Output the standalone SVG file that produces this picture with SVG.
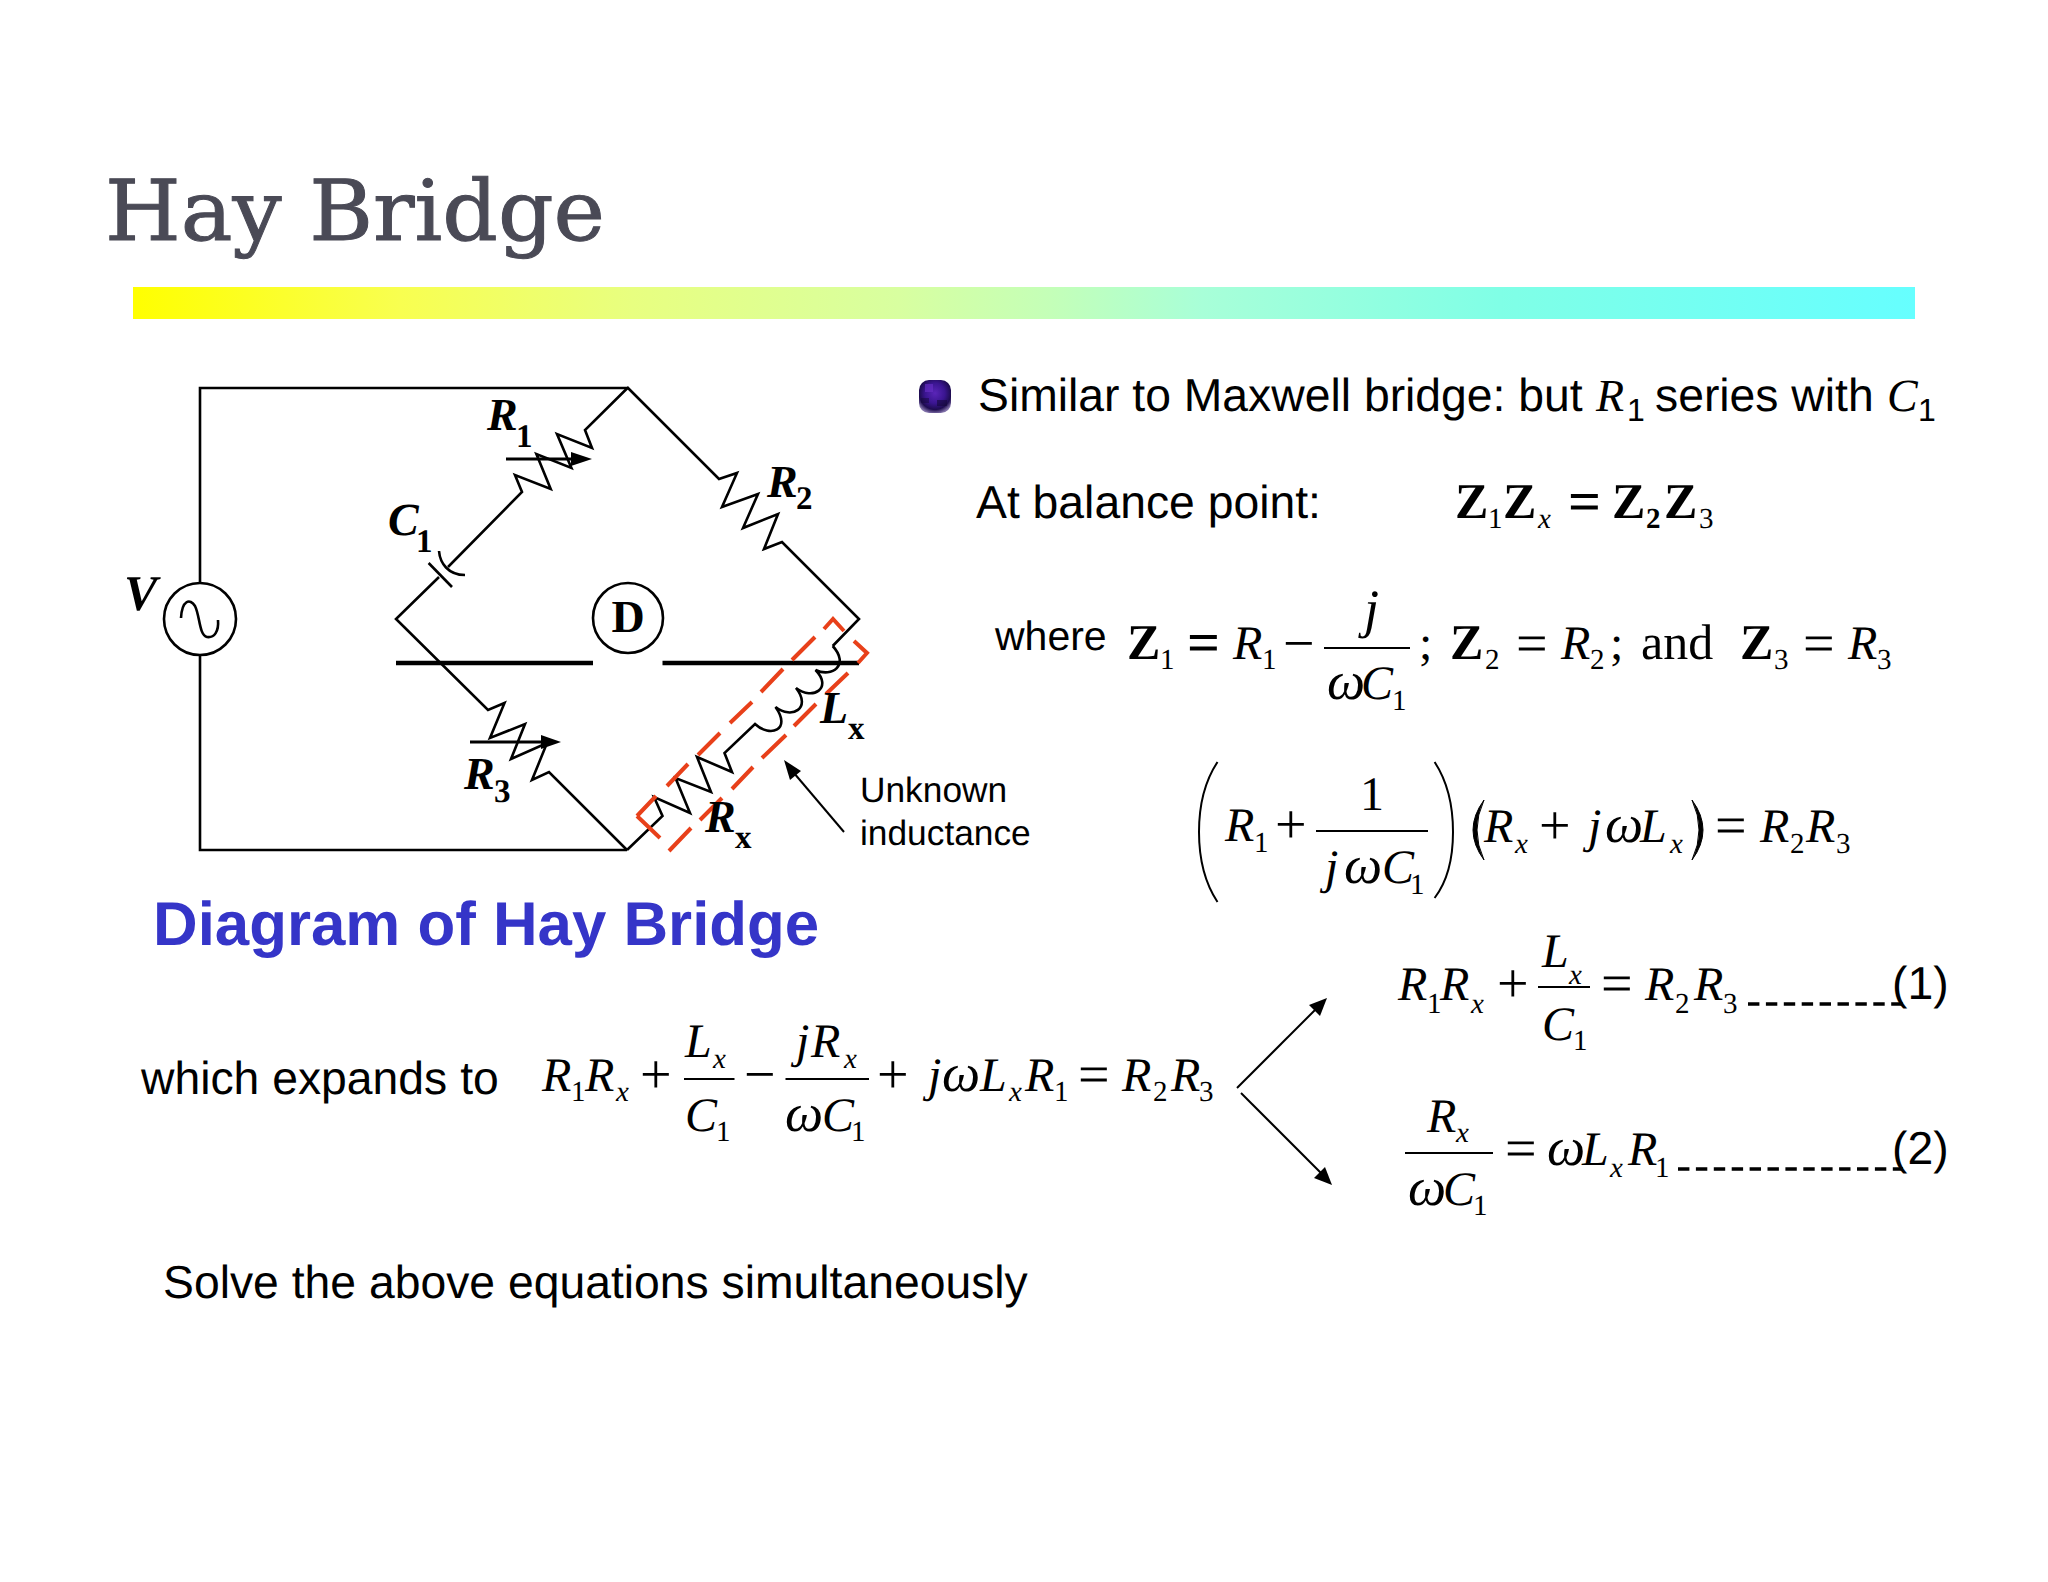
<svg xmlns="http://www.w3.org/2000/svg" width="2048" height="1582" viewBox="0 0 2048 1582">
<style>
text{font-family:"Liberation Serif",serif;fill:#000;text-rendering:geometricPrecision}
.a{font-family:"Liberation Sans",Arial,sans-serif;font-size:46.3px}
.al{font-family:"Liberation Sans",Arial,sans-serif;font-size:35.3px}
.i{font-style:italic;font-size:48px}
.o{font-style:italic;font-size:54px}
.u{font-size:48px}
.e{font-size:56px}
.z{font-weight:bold;font-size:50px}
.s{font-size:29px}
.si{font-style:italic;font-size:29px}
.sb{font-weight:bold;font-size:29px}
.lb{font-weight:bold;font-style:italic;font-size:46px}
.ls{font-weight:bold;font-size:33px}
.w{fill:none;stroke:#000;stroke-width:2.6;stroke-linejoin:miter}
.thick{fill:none;stroke:#000;stroke-width:4.5}
.thin{fill:none;stroke:#000;stroke-width:2}
.red{fill:none;stroke:#e8401a;stroke-width:4}
.dash{fill:none;stroke:#000;stroke-width:3.5;stroke-dasharray:11.4 6.5}
.ah{fill:#000}
</style>
<defs>
<linearGradient id="bar" x1="0" x2="1" y1="0" y2="0"><stop offset="0" stop-color="#ffff00"/><stop offset="0.15" stop-color="#f8ff50"/><stop offset="0.28" stop-color="#e8ff80"/><stop offset="0.43" stop-color="#d8ffa0"/><stop offset="0.515" stop-color="#c4ffb8"/><stop offset="0.6" stop-color="#a8ffd8"/><stop offset="0.767" stop-color="#80ffe6"/><stop offset="1" stop-color="#66ffff"/></linearGradient>
<radialGradient id="bul" cx="0.5" cy="0.4" r="0.62"><stop offset="0" stop-color="#5a25b8"/><stop offset="0.5" stop-color="#3a1590"/><stop offset="0.8" stop-color="#1e0c50"/><stop offset="1" stop-color="#8070a8"/></radialGradient>
</defs>
<rect width="2048" height="1582" fill="#fff"/>
<g id="title"><text x="105" y="240" style="font-family:'DejaVu Serif',serif;font-size:84px;fill:#4a4a56;stroke:#4a4a56;stroke-width:1" textLength="500" lengthAdjust="spacingAndGlyphs">Hay Bridge</text></g>
<rect id="title-bar" x="133" y="287" width="1782" height="32" fill="url(#bar)"/>

<g id="connectors">
<path id="wire-top" class="w" d="M200 583V388H627.5"/>
<path id="wire-bottom" class="w" d="M200 655V850H627"/>
<path id="r1-arm" class="w" d="M627.5 388L585 430L592 448L557 434L571.4 468L536.4 454L550.7 489L515 475L522 492L448 567"/>
<path id="c1-arm" class="w" d="M439 577L396 619L488 710L504.5 703L490 738L525 724L511 759L547 743L532 780L549 772L627 850"/>
<path id="r2-arm" class="w" d="M627 387L719 479L737 473L722 507L758 494L743 528L778 514L764 549L782 542L859 619L832.7 646"/>
<path id="rx-arm" class="w" d="M627 850L662.5 816L654 797L690 813L675.5 778L711 792L697 757L732 772L724.5 753L755 724C770 738 792 730 775.5 707C792 720 812 708 796 688C813 701 833 688 815.5 670C832 678 850 665 832.7 646"/>
<path id="detector-left" class="thick" d="M396 663H593"/>
<path id="detector-right" class="thick" d="M662.5 663H859"/>
<path id="unknown-arrow" class="thin" d="M844 832L788 766"/>
<polygon class="ah" points="784,760 801,771 790,780"/>
<path id="split-up" class="thin" d="M1237 1088L1320 1005"/>
<polygon class="ah" points="1327,998 1320,1016 1309,1005"/>
<path id="split-down" class="thin" d="M1241 1093L1325 1177"/>
<polygon class="ah" points="1332,1185 1314,1178 1325,1167"/>
</g>

<g id="source-v"><circle class="w" cx="200" cy="619" r="36"/><path class="w" d="M181 618C182 600 190 598 195 606C200 616 199 635 207 637C214 638 219 632 218 620"/><text class="lb" style="font-size:50px" x="124" y="610">V</text></g>
<g id="detector-d"><circle class="w" cx="628" cy="618" r="35"/><text x="628" y="632" text-anchor="middle" style="font-weight:bold;font-size:46px">D</text></g>
<g id="r1"><text class="lb" x="487" y="430">R</text><text class="ls" x="516" y="447">1</text><path class="thick" style="stroke-width:3" d="M506 459H576"/><polygon class="ah" points="592,459 571,452 571,466"/></g>
<g id="c1"><path class="w" d="M428.6 563L452 587"/><path class="w" d="M439 551C440 563 448 575 465 575"/><text class="lb" x="388" y="535">C</text><text class="ls" x="416" y="552">1</text></g>
<g id="r2"><text class="lb" x="767" y="497">R</text><text class="ls" x="796" y="509">2</text></g>
<g id="r3"><text class="lb" x="464" y="789">R</text><text class="ls" x="494" y="802">3</text><path class="thick" style="stroke-width:3" d="M470 742H545"/><polygon class="ah" points="561,742 541,735 541,749"/></g>
<g id="unknown-box"><path class="red" d="M637 816L656 796M667 786L688 764M698 755L720 733M730 723L752 702M761 692L783 669M792 660L815 637M824 629L833 619L844 631M854 641L867 653L858 663M848 673L826 694M816 704L794 726M786 735L762 758M753 767L732 789M722 798L700 820M691 828L669 851M660 838L637 816"/></g>
<g id="lx"><text class="lb" x="820" y="723">L</text><text class="ls" x="848" y="739">x</text></g>
<g id="rx"><text class="lb" x="705" y="832">R</text><text class="ls" x="735" y="848">x</text></g>
<g id="unknown-label"><text class="al" x="860" y="802">Unknown</text><text class="al" x="860" y="845">inductance</text></g>
<text id="caption" x="153" y="945" style="font-family:'Liberation Sans',Arial,sans-serif;font-size:61.8px;font-weight:bold;fill:#3535c8">Diagram of Hay Bridge</text>

<g id="bullet"><rect x="919" y="380" width="32" height="33" rx="10" fill="url(#bul)"/><rect x="925" y="384" width="8" height="8" fill="#6a30c8" opacity=".6"/><rect x="937" y="400" width="10" height="6" fill="#14083a" opacity=".6"/><rect x="921" y="398" width="8" height="5" fill="#14083a" opacity=".5"/></g>
<g id="line1"><text><tspan class="a" x="978" y="411">Similar to Maxwell bridge: but</tspan><tspan class="i" style="font-size:46px" x="1596" y="411">R</tspan><tspan class="a" style="font-size:32px" x="1627" y="421">1</tspan><tspan class="a" x="1655" y="411">series with</tspan><tspan class="i" style="font-size:46px" x="1887" y="411">C</tspan><tspan class="a" style="font-size:32px" x="1918" y="421">1</tspan></text></g>
<g id="line2"><text class="a" x="976" y="518">At balance point:</text>
<text><tspan class="z" x="1455" y="518">Z</tspan><tspan class="s" x="1488" y="528">1</tspan><tspan class="z" x="1503" y="518">Z</tspan><tspan class="si" x="1538" y="528">x</tspan><tspan class="z" style="font-size:58px" x="1568" y="521">=</tspan><tspan class="z" x="1612" y="518">Z</tspan><tspan class="sb" x="1646" y="528">2</tspan><tspan class="z" x="1664" y="518">Z</tspan><tspan class="s" x="1699" y="528">3</tspan></text></g>
<g id="line3"><text class="a" style="font-size:41px" x="995" y="650">where</text>
<text><tspan class="z" x="1127" y="659">Z</tspan><tspan class="s" x="1160" y="669">1</tspan><tspan class="z" style="font-size:58px" x="1187" y="662">=</tspan><tspan class="i" x="1233" y="659">R</tspan><tspan class="s" x="1262" y="669">1</tspan><tspan class="e" x="1283" y="662">−</tspan></text>
<text class="o" x="1364" y="627">j</text>
<text><tspan class="o" x="1327" y="699">ω</tspan><tspan class="i" x="1361" y="699">C</tspan><tspan class="s" x="1392" y="710">1</tspan></text>
<text><tspan class="u" x="1419" y="659">;</tspan><tspan class="z" x="1450" y="659">Z</tspan><tspan class="s" x="1485" y="669">2</tspan><tspan class="e" x="1516" y="662">=</tspan><tspan class="i" x="1561" y="659">R</tspan><tspan class="s" x="1590" y="669">2</tspan><tspan class="u" x="1610" y="659">;</tspan><tspan style="font-size:50px" x="1641" y="659">and</tspan><tspan class="z" x="1740" y="659">Z</tspan><tspan class="s" x="1774" y="669">3</tspan><tspan class="e" x="1803" y="662">=</tspan><tspan class="i" x="1848" y="659">R</tspan><tspan class="s" x="1877" y="669">3</tspan></text>
<path class="thin" d="M1324 648H1410"/></g>
<g id="eq-product">
<path class="thin" d="M1217.5 762Q1199 790 1199 832T1217.5 902M1434.6 762Q1453 790 1453 832T1434.6 898"/>
<path d="M1484 800Q1462 830 1484 860Q1470 830 1484 800ZM1692 800Q1714 830 1692 860Q1706 830 1692 800Z" fill="#000" stroke="#000" stroke-width="1"/>
<path class="thin" d="M1316 831H1428"/>
<text><tspan class="i" x="1225" y="841">R</tspan><tspan class="s" x="1254" y="852">1</tspan><tspan class="e" x="1275" y="843">+</tspan><tspan class="u" x="1360" y="810">1</tspan><tspan class="i" x="1325" y="883">j</tspan><tspan class="o" x="1344" y="883">ω</tspan><tspan class="i" x="1382" y="883">C</tspan><tspan class="s" x="1410" y="894">1</tspan><tspan class="i" x="1484" y="842">R</tspan><tspan class="si" x="1515" y="853">x</tspan><tspan class="e" x="1539" y="844">+</tspan><tspan class="i" x="1588" y="842">j</tspan><tspan class="o" x="1605" y="842">ω</tspan><tspan class="i" x="1640" y="842">L</tspan><tspan class="si" x="1670" y="853">x</tspan><tspan class="e" x="1715" y="844">=</tspan><tspan class="i" x="1760" y="842">R</tspan><tspan class="s" x="1790" y="853">2</tspan><tspan class="i" x="1806" y="842">R</tspan><tspan class="s" x="1836" y="853">3</tspan></text></g>
<g id="eq-1">
<path class="thin" d="M1538 987H1590"/>
<text><tspan class="i" x="1398" y="1000">R</tspan><tspan class="s" x="1427" y="1013">1</tspan><tspan class="i" x="1440" y="1000">R</tspan><tspan class="si" x="1471" y="1013">x</tspan><tspan class="e" x="1497" y="1002">+</tspan><tspan class="i" x="1542" y="967">L</tspan><tspan class="si" x="1569" y="984">x</tspan><tspan class="i" x="1542" y="1040">C</tspan><tspan class="s" x="1573" y="1050">1</tspan><tspan class="e" x="1601" y="1002">=</tspan><tspan class="i" x="1645" y="1000">R</tspan><tspan class="s" x="1675" y="1013">2</tspan><tspan class="i" x="1694" y="1000">R</tspan><tspan class="s" x="1723" y="1013">3</tspan></text>
<path class="dash" d="M1748 1004H1903"/><text class="a" x="1892" y="999">(1)</text></g>
<g id="eq-2">
<path class="thin" d="M1405 1153H1493"/>
<text><tspan class="i" x="1427" y="1132">R</tspan><tspan class="si" x="1456" y="1142">x</tspan><tspan class="o" x="1408" y="1205">ω</tspan><tspan class="i" x="1443" y="1205">C</tspan><tspan class="s" x="1473" y="1215">1</tspan><tspan class="e" x="1505" y="1167">=</tspan><tspan class="o" x="1547" y="1165">ω</tspan><tspan class="i" x="1582" y="1165">L</tspan><tspan class="si" x="1610" y="1177">x</tspan><tspan class="i" x="1628" y="1165">R</tspan><tspan class="s" x="1655" y="1177">1</tspan></text>
<path class="dash" d="M1678 1169H1903"/><text class="a" x="1892" y="1164">(2)</text></g>
<g id="eq-expand">
<text class="a" x="141" y="1094">which expands to</text>
<path class="thin" d="M684 1079H734.5M785.5 1079H869"/>
<text><tspan class="i" x="542" y="1091">R</tspan><tspan class="s" x="571" y="1101">1</tspan><tspan class="i" x="585" y="1091">R</tspan><tspan class="si" x="616" y="1101">x</tspan><tspan class="e" x="640" y="1093">+</tspan><tspan class="i" x="685" y="1057">L</tspan><tspan class="si" x="713" y="1068">x</tspan><tspan class="i" x="685" y="1131">C</tspan><tspan class="s" x="716" y="1141">1</tspan><tspan class="e" x="744" y="1093">−</tspan><tspan class="i" x="796" y="1057">j</tspan><tspan class="i" x="811" y="1057">R</tspan><tspan class="si" x="844" y="1068">x</tspan><tspan class="o" x="785" y="1131">ω</tspan><tspan class="i" x="822" y="1131">C</tspan><tspan class="s" x="851" y="1141">1</tspan><tspan class="e" x="877" y="1093">+</tspan><tspan class="i" x="928" y="1091">j</tspan><tspan class="o" x="942" y="1091">ω</tspan><tspan class="i" x="980" y="1091">L</tspan><tspan class="si" x="1009" y="1101">x</tspan><tspan class="i" x="1025" y="1091">R</tspan><tspan class="s" x="1054" y="1101">1</tspan><tspan class="e" x="1078" y="1093">=</tspan><tspan class="i" x="1122" y="1091">R</tspan><tspan class="s" x="1153" y="1101">2</tspan><tspan class="i" x="1171" y="1091">R</tspan><tspan class="s" x="1199" y="1101">3</tspan></text></g>
<text id="solve" class="a" x="163" y="1298">Solve the above equations simultaneously</text>
</svg>
